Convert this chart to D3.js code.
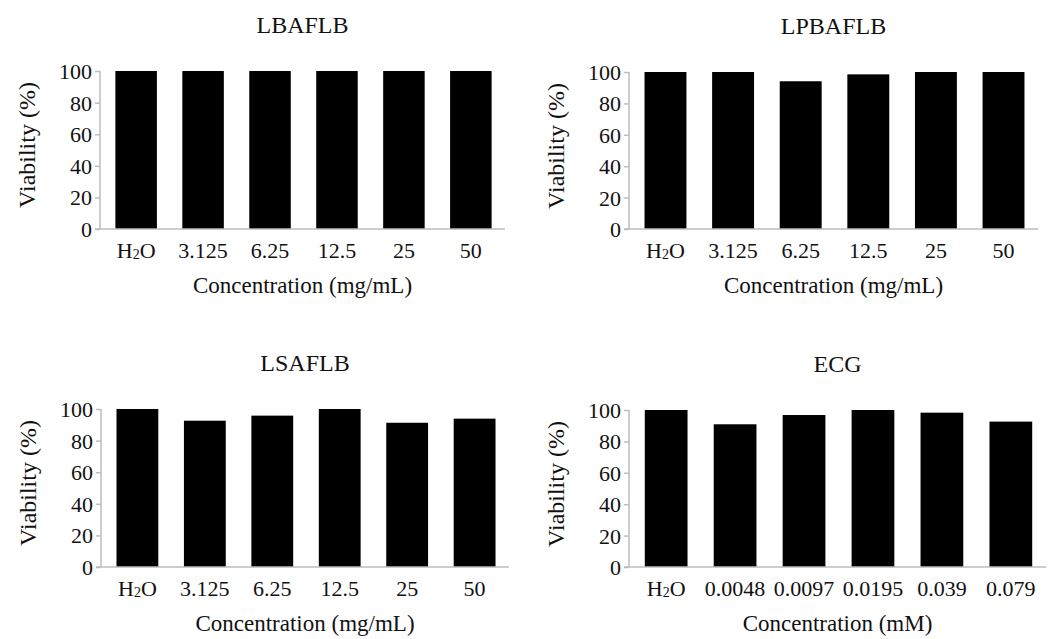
<!DOCTYPE html>
<html>
<head>
<meta charset="utf-8">
<script src="https://cdn.jsdelivr.net/npm/d3@7"></script>
<style>
  body { margin: 0; background: #fff; }
  text { font-family: "Liberation Serif", "Times New Roman", serif; fill: #111; }
</style>
</head>
<body>
<svg id="chart" width="1051" height="639"></svg>
<script>
// concentrations on the x axes
var mgCategories = ["H2O", "3.125", "6.25", "12.5", "25", "50"];
var mMCategories = ["H2O", "0.0048", "0.0097", "0.0195", "0.039", "0.079"];

// viability (%)
var lbaflbValues = [100, 100, 100, 100, 100, 100];
var lpbaflbValues = [100, 100, 94.1, 98.5, 100, 100];
var lsaflbValues = [100, 92.6, 95.8, 100, 91.3, 93.9];
var ecgValues = [100, 90.9, 96.8, 100, 98.3, 92.6];

var yTicks = [0, 20, 40, 60, 80, 100];
var titles = ["LBAFLB", "LPBAFLB", "LSAFLB", "ECG"];
var xTitles = ["Concentration (mg/mL)", "Concentration (mg/mL)", "Concentration (mg/mL)", "Concentration (mM)"];
var yTitle = "Viability (%)";

// plot frames for the four panels
var frames = [
	{ left: 100, top: 71, right: 505, bottom: 229 },
	{ left: 629, top: 72, right: 1038, bottom: 229 },
	{ left: 101, top: 409, right: 509, bottom: 567 },
	{ left: 629, top: 410, right: 1046, bottom: 567 }
];

var panels = [
	{ title: titles[0], cats: mgCategories, values: lbaflbValues, xTitle: xTitles[0], frame: frames[0] },
	{ title: titles[1], cats: mgCategories, values: lpbaflbValues, xTitle: xTitles[1], frame: frames[1] },
	{ title: titles[2], cats: mgCategories, values: lsaflbValues, xTitle: xTitles[2], frame: frames[2] },
	{ title: titles[3], cats: mMCategories, values: ecgValues, xTitle: xTitles[3], frame: frames[3] }
];

var svg = d3.select("#chart");
var axisColor = "#bdbdbd";

function drawPanel(p) {
	var f = p.frame;
	var g = svg.append("g");

	var x = d3.scaleBand()
		.domain(p.cats)
		.range([f.left + 2, f.right])
		.paddingInner(0.38)
		.paddingOuter(0.2);

	var y = d3.scaleLinear()
		.domain([0, 100])
		.range([f.bottom, f.top]);

	// bars
	g.selectAll("rect.bar")
		.data(p.values)
		.enter()
		.append("rect")
		.attr("class", "bar")
		.attr("x", function (d, i) { return x(p.cats[i]); })
		.attr("y", function (d) { return y(d); })
		.attr("width", x.bandwidth())
		.attr("height", function (d) { return y(0) - y(d); })
		.attr("fill", "#000");

	// y axis
	var yAxis = g.append("g")
		.attr("transform", "translate(" + f.left + ",0)")
		.call(d3.axisLeft(y).tickValues(yTicks).tickSize(5).tickPadding(3));
	yAxis.select(".domain").attr("stroke", axisColor).attr("stroke-width", 1.5)
		.attr("d", "M0," + f.top + "V" + f.bottom);
	yAxis.selectAll(".tick line").attr("stroke", axisColor).attr("stroke-width", 1.5);
	yAxis.selectAll(".tick text")
		.style("font-size", "22px")
		.attr("dy", "0.34em");

	// x axis
	var xAxis = g.append("g")
		.attr("transform", "translate(0," + f.bottom + ")")
		.call(d3.axisBottom(x).tickSize(0).tickPadding(0));
	xAxis.select(".domain").attr("stroke", axisColor).attr("stroke-width", 1.5)
		.attr("d", "M" + (f.left - 5) + ",0H" + f.right);
	xAxis.selectAll(".tick text")
		.style("font-size", "22px")
		.attr("dy", null)
		.attr("y", 29)
		.each(function (d) {
			if (d !== "H2O") return;
			var t = d3.select(this).text("");
			t.append("tspan").text("H");
			t.append("tspan").text("2").style("font-size", "14px").attr("dy", 1);
			t.append("tspan").text("O").attr("dy", -1);
		});

	// titles
	g.append("text")
		.attr("x", (f.left + f.right) / 2)
		.attr("y", f.top - 38)
		.attr("text-anchor", "middle")
		.style("font-size", "24px")
		.text(p.title);

	g.append("text")
		.attr("x", (f.left + f.right) / 2)
		.attr("y", f.bottom + 64)
		.attr("text-anchor", "middle")
		.style("font-size", "23px")
		.text(p.xTitle);

	g.append("text")
		.attr("transform", "translate(" + (f.left - 65) + "," + (f.top + 74) + ") rotate(-90)")
		.attr("text-anchor", "middle")
		.style("font-size", "24px")
		.text(yTitle);
}

panels.forEach(drawPanel);
</script>
</body>
</html>
